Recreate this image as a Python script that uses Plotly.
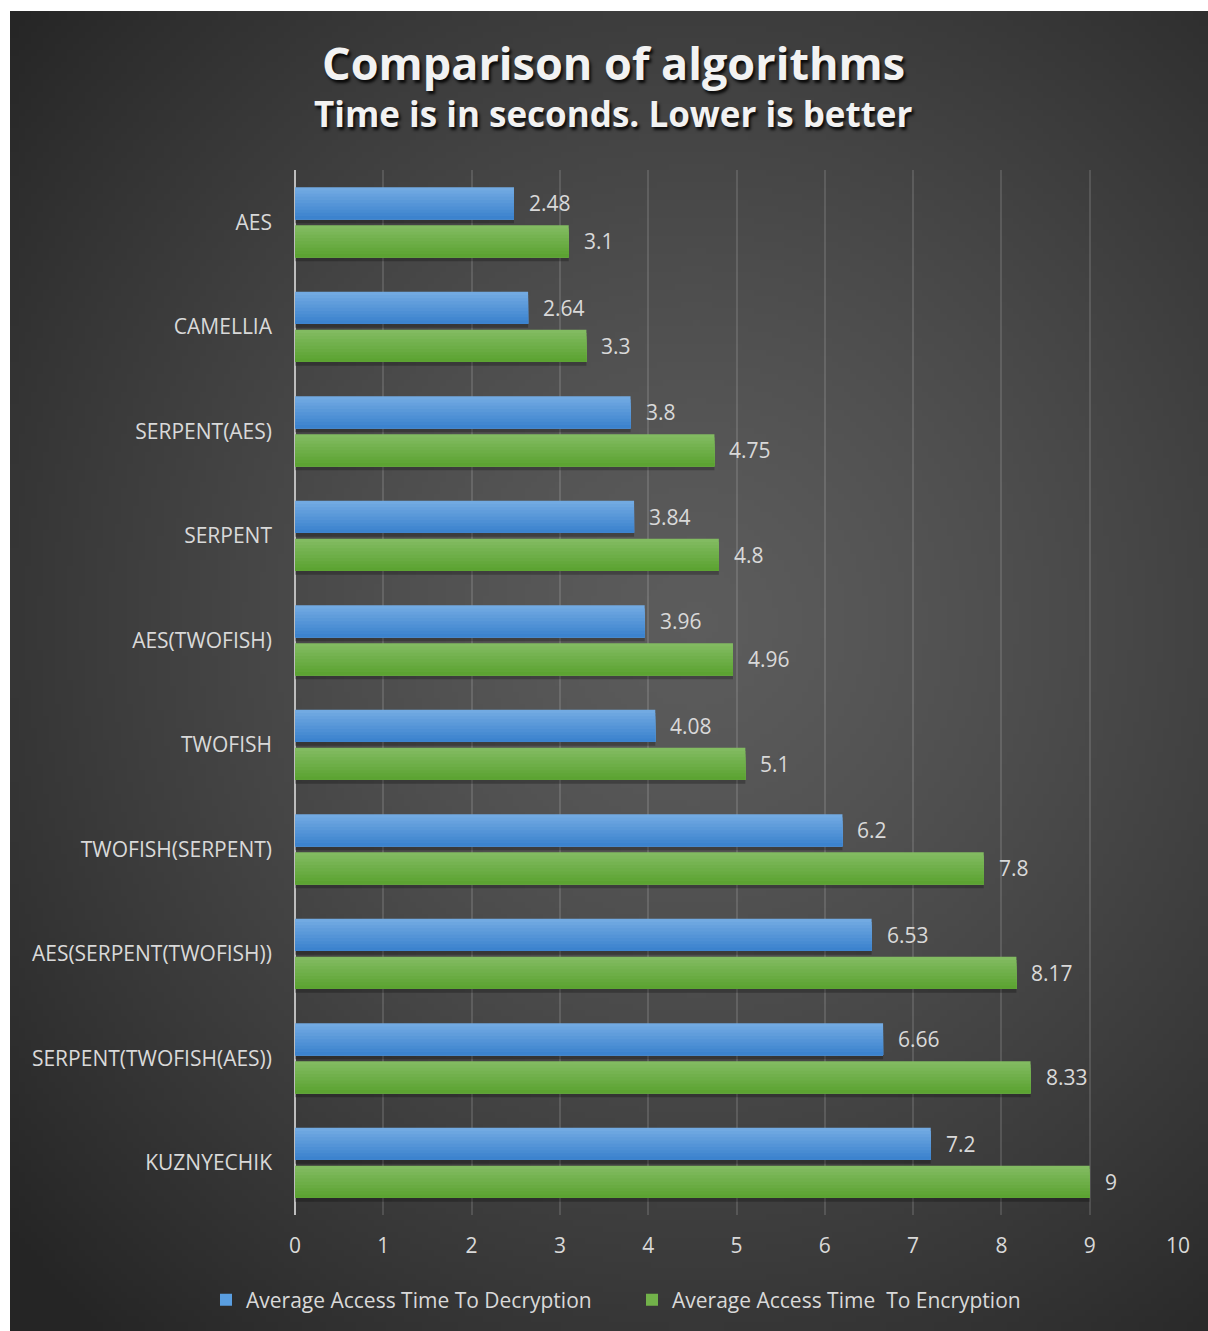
import base64, struct, zlib, math
import plotly.graph_objects as go

# ---------------- data ----------------
algorithms = ["AES", "CAMELLIA", "SERPENT(AES)", "SERPENT", "AES(TWOFISH)", "TWOFISH",
              "TWOFISH(SERPENT)", "AES(SERPENT(TWOFISH))", "SERPENT(TWOFISH(AES))", "KUZNYECHIK"]
decryption = [2.48, 2.64, 3.8, 3.84, 3.96, 4.08, 6.2, 6.53, 6.66, 7.2]
encryption = [3.1, 3.3, 4.75, 4.8, 4.96, 5.1, 7.8, 8.17, 8.33, 9]
x_ticks = [0, 1, 2, 3, 4, 5, 6, 7, 8, 9, 10]
series_names = ["Average Access Time To Decryption", "Average Access Time  To Encryption"]

# ---------------- layout geometry ----------------
W, H = 1208, 1331
ML, MT = 295, 170
MR = W - 1178
MB = H - 1215
PW, PH = W - ML - MR, H - MT - MB
px_per_cat = PH / len(algorithms)

def ypaper(py):
    return 1 + (MT - py) / PH

def xpaper(px):
    return (px - ML) / PW

# ---------------- background gradient image ----------------
def make_png(w, h, fn):
    rows = []
    for j in range(h):
        row = bytearray([0])
        for i in range(w):
            row += bytes(fn(i, j))
        rows.append(bytes(row))
    raw = b"".join(rows)
    def chunk(t, d):
        c = struct.pack(">I", len(d)) + t + d
        return c + struct.pack(">I", zlib.crc32(t + d) & 0xffffffff)
    png = b"\x89PNG\r\n\x1a\n" + chunk(b"IHDR", struct.pack(">IIBBBBB", w, h, 8, 2, 0, 0, 0))
    png += chunk(b"IDAT", zlib.compress(raw, 9)) + chunk(b"IEND", b"")
    return "data:image/png;base64," + base64.b64encode(png).decode()

BG_X0, BG_Y0 = 10, 11
BGW, BGH = W - BG_X0, H - BG_Y0
SC = 6
iw, ih = BGW // SC, BGH // SC
cx, cy = 690 - BG_X0, 620 - BG_Y0
R = 900.0
c_in, c_out = 92, 37

def grad(i, j):
    x, y = i * SC, j * SC
    d = math.hypot((x - cx) * 1.0, (y - cy) * 0.95) / R
    t = min(1.0, d) ** 1.3
    v = int(round(c_in + (c_out - c_in) * t))
    return (v, v, v)

bg_src = make_png(iw, ih, grad)

# ---------------- bars ----------------
bar_w = 0.306
offsets = [-0.335, 0.029]
tops = [(114, 170, 226), (130, 187, 97)]
bots = [(60, 131, 206), (92, 163, 50)]
values = [decryption, encryption]
legend_cols = ["#5a9ee0", "#72b24a"]
NB = 10

fig = go.Figure()

for s in range(2):
    fig.add_trace(go.Bar(
        y=algorithms, x=values[s], orientation="h", width=bar_w,
        offset=offsets[s] + 4 / px_per_cat, marker=dict(color="rgba(0,0,0,0.25)", line_width=0),
        showlegend=False, hoverinfo="skip"))
    for k in range(NB):
        t = k / (NB - 1)
        col = tuple(int(round(tops[s][c] + (bots[s][c] - tops[s][c]) * t)) for c in range(3))
        frac = k / NB
        fig.add_trace(go.Bar(
            y=algorithms, x=values[s], orientation="h",
            width=bar_w * (1 - frac), offset=offsets[s] + bar_w * frac,
            marker=dict(color="rgb(%d,%d,%d)" % col, line_width=0),
            showlegend=False, hoverinfo="skip"))
    fig.add_trace(go.Bar(
        y=[None], x=[None], orientation="h", name=series_names[s],
        marker=dict(color=legend_cols[s], line_width=0), showlegend=True))

annotations = []
for s in range(2):
    ctr = offsets[s] + bar_w / 2
    for cat, v in zip(algorithms, values[s]):
        annotations.append(dict(
            x=v, y=cat, xref="x", yref="y", text=f"{v:g}", showarrow=False,
            xanchor="left", yanchor="middle", xshift=13, yshift=-ctr * px_per_cat,
            font=dict(family="Open Sans", size=21, color="#d9d9d9")))

annotations.append(dict(
    x=xpaper(613), y=ypaper(62), xref="paper", yref="paper", showarrow=False,
    text="<b>Comparison of algorithms</b>", xanchor="center", yanchor="middle",
    font=dict(family="Open Sans", size=45, color="#f2f2f2", shadow="2px 3px 3px rgba(0,0,0,0.85)")))
annotations.append(dict(
    x=xpaper(613), y=ypaper(113), xref="paper", yref="paper", showarrow=False,
    text="<b>Time is in seconds. Lower is better</b>", xanchor="center", yanchor="middle",
    font=dict(family="Open Sans", size=35, color="#f2f2f2", shadow="2px 3px 3px rgba(0,0,0,0.85)")))

fig.update_layout(
    width=W, height=H,
    margin=dict(l=ML, r=MR, t=MT, b=MB, pad=0),
    paper_bgcolor="white", plot_bgcolor="rgba(0,0,0,0)",
    barmode="overlay",
    font=dict(family="Open Sans", size=21, color="#d9d9d9"),
    images=[dict(source=bg_src, xref="paper", yref="paper",
                 x=xpaper(BG_X0), y=ypaper(BG_Y0), sizex=BGW / PW, sizey=BGH / PH,
                 xanchor="left", yanchor="top", sizing="stretch", layer="below")],
    annotations=annotations,
    showlegend=True,
    legend=dict(orientation="h", xref="container", yref="container",
                x=206 / W, xanchor="left", y=1 - 1300 / H, yanchor="middle",
                entrywidth=381, entrywidthmode="pixels",
                font=dict(family="Open Sans", size=21, color="#d9d9d9"),
                bgcolor="rgba(0,0,0,0)", itemclick=False, traceorder="normal"),
    xaxis=dict(range=[0, 10], tickvals=x_ticks, showgrid=True,
               gridcolor="rgba(255,255,255,0.13)", gridwidth=2,
               zeroline=True, zerolinecolor="#bdbdbd", zerolinewidth=2,
               showline=False, ticks="", ticklabelstandoff=16,
               tickfont=dict(family="Open Sans", size=21, color="#d9d9d9")),
    yaxis=dict(range=[len(algorithms) - 0.5, -0.5], type="category", showgrid=False,
               zeroline=False, showline=False, ticks="", ticklabelstandoff=22,
               tickfont=dict(family="Open Sans", size=21, color="#d9d9d9")),
)

fig.write_html("out.html", config={"displayModeBar": False},
               post_script="document.body.style.margin='0';document.body.style.overflow='hidden';")
